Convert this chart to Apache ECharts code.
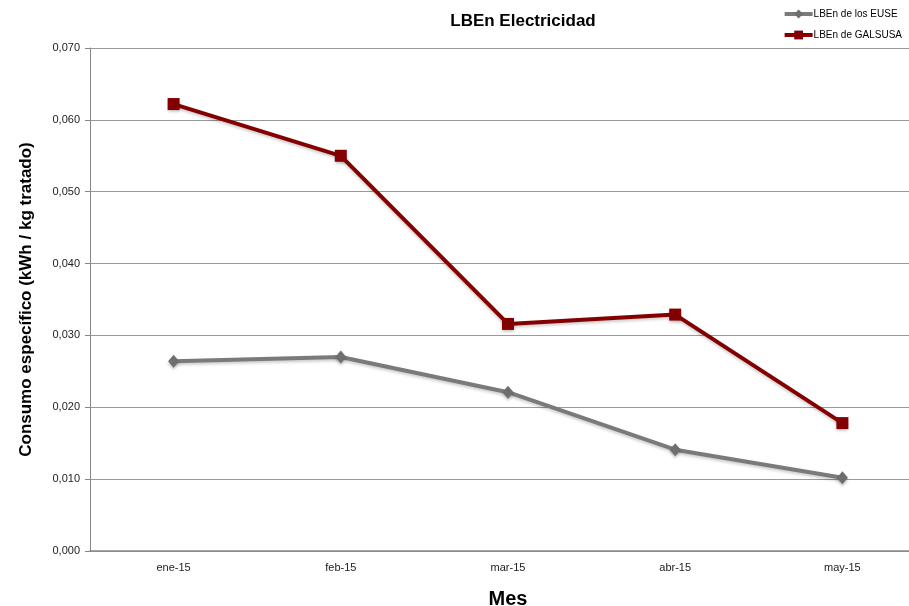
<!DOCTYPE html>
<html>
<head>
<meta charset="utf-8">
<script src="https://cdn.jsdelivr.net/npm/echarts@6/dist/echarts.min.js"></script>
<style>
  html, body { margin: 0; padding: 0; background: #fff; }
  #chart { width: 909px; height: 606px; }
</style>
</head>
<body>
<div id="chart"></div>
<script>
// Monthly specific electricity consumption (kWh / kg tratado)
const months = ['ene-15', 'feb-15', 'mar-15', 'abr-15', 'may-15'];
const euseValues = [0.0264, 0.0270, 0.0221, 0.0141, 0.0102];
const galsusaValues = [0.0622, 0.0550, 0.0316, 0.0329, 0.0178];
const yTicks = { min: 0, max: 0.07, interval: 0.01 };

const narrow = '"Liberation Sans Narrow", "Arial Narrow", "Liberation Sans", sans-serif';

const chart = echarts.init(document.getElementById('chart'));
chart.setOption({
  animation: false,
  backgroundColor: '#ffffff',
  title: {
    text: 'LBEn Electricidad',
    left: 518, top: 8, textAlign: 'center',
    textStyle: { fontFamily: narrow, fontSize: 17, fontWeight: 'bold', color: '#000' }
  },
  legend: {
    orient: 'vertical',
    right: 2, top: 4,
    itemWidth: 28, itemHeight: 11, itemGap: 11,
    lineStyle: { width: 4 },
    textStyle: { fontFamily: narrow, fontSize: 10, color: '#000', padding: [0, 0, 0, -4] },
    data: ['LBEn de los EUSE', 'LBEn de GALSUSA']
  },
  grid: { left: 90, top: 48, width: 836, height: 503, outerBoundsMode: 'none' },
  xAxis: {
    type: 'category',
    data: months,
    boundaryGap: true,
    name: 'Mes',
    nameLocation: 'middle',
    nameGap: 38,
    nameTextStyle: { fontFamily: narrow, fontSize: 20, fontWeight: 'bold', color: '#000' },
    axisLine: { lineStyle: { color: '#888', width: 1.5 } },
    axisTick: { show: false },
    axisLabel: { fontFamily: narrow, fontSize: 11, color: '#222', margin: 11 }
  },
  yAxis: {
    type: 'value',
    min: yTicks.min, max: yTicks.max, interval: yTicks.interval,
    name: 'Consumo específico (kWh / kg tratado)',
    nameLocation: 'middle',
    nameGap: 55,
    nameTextStyle: { fontFamily: narrow, fontSize: 17, fontWeight: 'bold', color: '#000' },
    axisLine: { show: true, lineStyle: { color: '#888', width: 1 } },
    axisTick: { show: true, length: 5, lineStyle: { color: '#888' } },
    splitLine: { lineStyle: { color: '#999', width: 1 } },
    axisLabel: {
      fontFamily: narrow, fontSize: 11, color: '#222', margin: 10,
      formatter: v => v.toFixed(3).replace('.', ',')
    }
  },
  series: [
    {
      name: 'LBEn de los EUSE',
      type: 'line',
      data: euseValues,
      symbol: 'diamond', symbolSize: [11, 13],
      lineStyle: { color: '#7a7a7a', width: 4, shadowColor: 'rgba(0,0,0,0.2)', shadowBlur: 3, shadowOffsetY: 2 },
      itemStyle: { color: '#6e6e6e', shadowColor: 'rgba(0,0,0,0.25)', shadowBlur: 3, shadowOffsetY: 2 }
    },
    {
      name: 'LBEn de GALSUSA',
      type: 'line',
      data: galsusaValues,
      symbol: 'rect', symbolSize: 12,
      lineStyle: { color: '#840000', width: 4, shadowColor: 'rgba(0,0,0,0.2)', shadowBlur: 3, shadowOffsetY: 2 },
      itemStyle: { color: '#840000', shadowColor: 'rgba(0,0,0,0.25)', shadowBlur: 3, shadowOffsetY: 2 }
    }
  ]
});
</script>
</body>
</html>
